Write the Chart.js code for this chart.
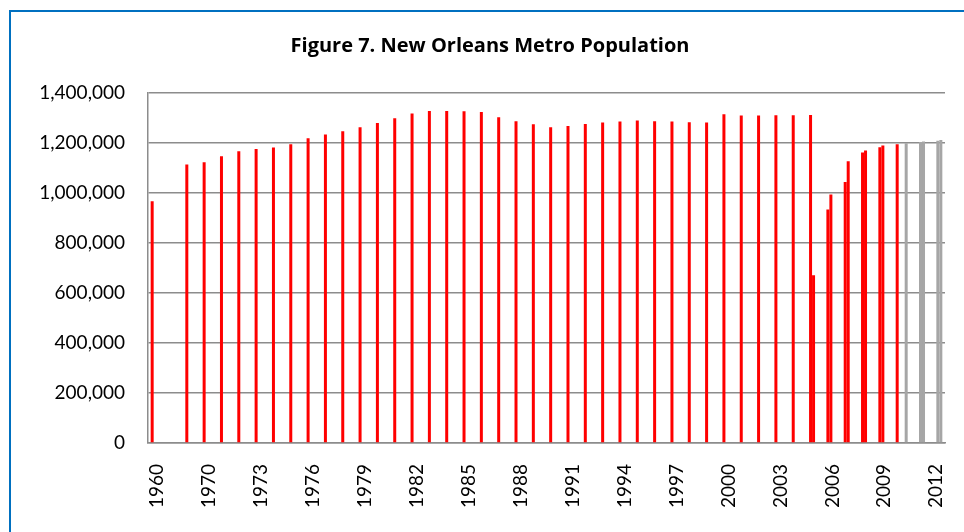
<!DOCTYPE html>
<html>
<head>
<meta charset="utf-8">
<title>New Orleans Metro Population</title>
<script src="https://cdn.jsdelivr.net/npm/chart.js@4/dist/chart.umd.min.js"></script>
<style>
    html, body { margin: 0; padding: 0; background: #fff; overflow: hidden; }
    #frame {
        position: absolute; left: 9px; top: 10px;
        width: 1100px; height: 700px;
        border: 2px solid #0070c0;
    }
    #chart-box { position: absolute; left: 0; top: 0; width: 964px; height: 532px; }
</style>
</head>
<body>
<div id="frame"></div>
<div id="chart-box"><canvas id="population-chart" width="964" height="532"></canvas></div>
<script>
// years on the category axis (index 1 and 2 are the unlabeled slots before 1970)
const years = ['1960', '1965', '1969',
    '1970', '1971', '1972', '1973', '1974', '1975', '1976', '1977', '1978', '1979',
    '1980', '1981', '1982', '1983', '1984', '1985', '1986', '1987', '1988', '1989',
    '1990', '1991', '1992', '1993', '1994', '1995', '1996', '1997', '1998', '1999',
    '2000', '2001', '2002', '2003', '2004', '2005', '2006', '2007', '2008', '2009',
    '2010', '2011', '2012'];

// main annual estimates (red)
const estimates = [967000, null, 1114000,
    1123000, 1147000, 1167000, 1176000, 1182000, 1195000, 1219000, 1234000, 1247000, 1263000,
    1280000, 1299000, 1318000, 1328000, 1328000, 1327000, 1324000, 1303000, 1287000, 1275000,
    1263000, 1268000, 1276000, 1282000, 1286000, 1290000, 1287000, 1286000, 1283000, 1282000,
    1315000, 1310000, 1310000, 1311000, 1311000, 1312000, 934000, 1044000, 1162000, 1183000,
    1195000, null, null];

// second estimate after the storm (red)
const revisedYears = ['2005', '2006', '2007', '2008', '2009'];
const revisedValues = [671000, 994000, 1127000, 1170000, 1190000];

// projections (grey)
const projectionLowYears = ['2011', '2012'];
const projectionLowValues = [1204000, 1209000];
const projectionHighYears = ['2010', '2011', '2012'];
const projectionHighValues = [1199000, 1206000, 1212000];

const yTicks = [0, 200000, 400000, 600000, 800000, 1000000, 1200000, 1400000];

function alignTo(keys, values) {
    return years.map(y => {
        const i = keys.indexOf(y);
        return i === -1 ? null : values[i];
    });
}

document.addEventListener('DOMContentLoaded', () => {
    const ctx = document.getElementById('population-chart').getContext('2d');
    const textFont = 'Lato';
    const lineGrey = '#8c8c8c';

    new Chart(ctx, {
        type: 'bar',
        data: {
            labels: years,
            datasets: [
                { label: 'Estimate', data: estimates, backgroundColor: '#ff0000' },
                { label: 'Revised estimate', data: alignTo(revisedYears, revisedValues), backgroundColor: '#ff0000' },
                { label: 'Projection (low)', data: alignTo(projectionLowYears, projectionLowValues), backgroundColor: '#a6a6a6' },
                { label: 'Projection (high)', data: alignTo(projectionHighYears, projectionHighValues), backgroundColor: '#a6a6a6' }
            ]
        },
        options: {
            responsive: false,
            animation: false,
            devicePixelRatio: 1,
            categoryPercentage: 0.6925,
            barPercentage: 1.0,
            layout: { padding: { left: 35, right: 19, top: 0, bottom: 0 } },
            plugins: {
                legend: { display: false },
                tooltip: { enabled: false },
                title: {
                    display: true,
                    text: 'Figure 7. New Orleans Metro Population',
                    color: '#000',
                    font: { family: '"Open Sans"', size: 20, weight: 'bold', lineHeight: '24px' },
                    padding: { top: 34, bottom: 35 }
                }
            },
            scales: {
                x: {
                    grid: { display: false, drawTicks: false },
                    border: { display: true, color: lineGrey, width: 1.5 },
                    ticks: {
                        autoSkip: false,
                        minRotation: 90,
                        maxRotation: 90,
                        padding: 21,
                        color: '#000',
                        font: { family: textFont, size: 19 },
                        callback: (value, index) => index % 3 === 0 ? years[index] : ''
                    },
                    afterFit: (scale) => {
                        scale.height = 89;
                        scale.paddingLeft = 0;
                        scale.paddingRight = 0;
                    }
                },
                y: {
                    min: 0,
                    max: 1400000,
                    afterBuildTicks: (scale) => { scale.ticks = yTicks.map(v => ({ value: v })); },
                    grid: { color: lineGrey, lineWidth: 1.5, drawTicks: false },
                    border: { display: true, color: lineGrey, width: 1.5 },
                    ticks: {
                        padding: 23,
                        color: '#000',
                        font: { family: textFont, size: 19 },
                        callback: (value) => value.toLocaleString('en-US')
                    },
                    afterFit: (scale) => { scale.width = 113; }
                }
            }
        }
    });
});
</script>
</body>
</html>
